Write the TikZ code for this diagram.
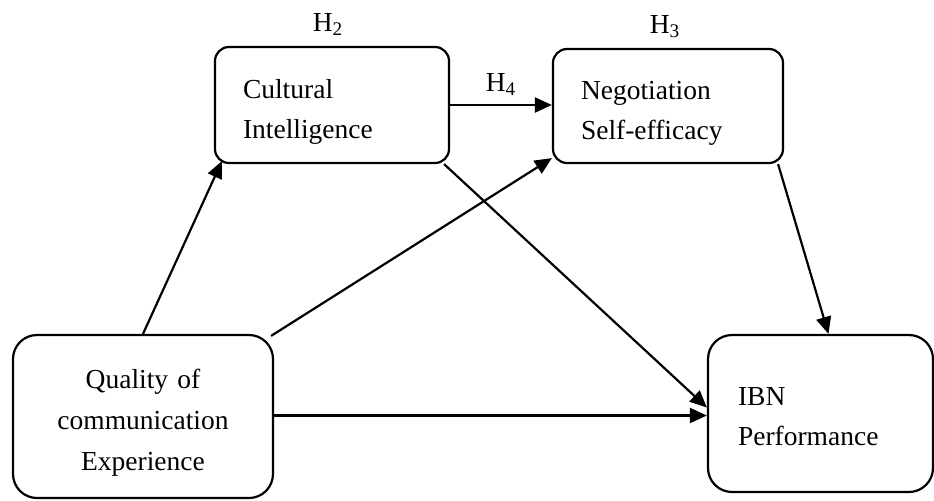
\documentclass[tikz,border=0pt]{standalone}
\usepackage{fontspec}
\setmainfont{Liberation Serif}
\usetikzlibrary{arrows.meta,positioning,calc}
\newcommand{\toppad}[1]{\rule{0pt}{#1}}
\tikzset{
	construct/.style={draw, line width=1.1pt, rounded corners=7pt, inner xsep=14pt, inner ysep=0pt, align=left, font=\fontsize{13.75}{20}\selectfont},
	bigconstruct/.style={construct, rounded corners=12pt},
	hyp/.style={inner sep=0pt, font=\fontsize{13.75}{16}\selectfont},
	patharrow/.style={line width=1.1pt, -{Triangle[length=8.5pt,width=7.5pt]}}
}

\begin{document}
\begin{tikzpicture}[x=0.5pt, y=-0.5pt]
			%%%%% START %%%%%
			\useasboundingbox (0, 0) rectangle (934, 500);
			
			\node[construct, text width=89pt, minimum height=58pt] (ci) at (332, 105) {\toppad{16pt}Cultural\\Intelligence};
			\node[construct, text width=87pt, minimum height=57pt] (ns) at (668, 106) {\toppad{16pt}Negotiation\\Self-efficacy};
			\node[bigconstruct, align=center, text width=102pt, minimum height=81.5pt, font=\fontsize{13.75}{20.5}\selectfont] (q) at (143, 416.5) {\toppad{16pt}Quality of\\communication\\Experience};
			\node[bigconstruct, inner xsep=15pt, text width=82.5pt, minimum height=78.5pt] (ibn) at (820.5, 413.5) {\toppad{12.5pt}IBN\\Performance};
			
			\node[hyp, above=5pt of ci, xshift=-2pt] (h2) {H\textsubscript{2}};
			\node[hyp, above=5pt of ns, xshift=-1.5pt] (h3) {H\textsubscript{3}};
			
			\draw[patharrow] (ci.east) -- (ci.east -| ns.west) node[hyp, midway, above=4pt] (h4) {H\textsubscript{4}};
			\draw[patharrow] (q.north) -- ([xshift=4pt, yshift=1.5pt]ci.south west);
			\draw[patharrow] ([xshift=-1.5pt, yshift=-1pt]q.north east) -- ([yshift=3pt]ns.south west);
			\draw[patharrow] ([yshift=0.5pt]q.east) -- ([yshift=0.5pt]q.east -| ibn.west);
			\draw[patharrow] ([xshift=-3pt]ci.south east) -- ([yshift=3pt]ibn.west);
			\draw[patharrow] ([xshift=-3pt]ns.south east) -- ([xshift=4pt]ibn.north);
			
			%%%%% END %%%%%
\end{tikzpicture}
\end{document}
